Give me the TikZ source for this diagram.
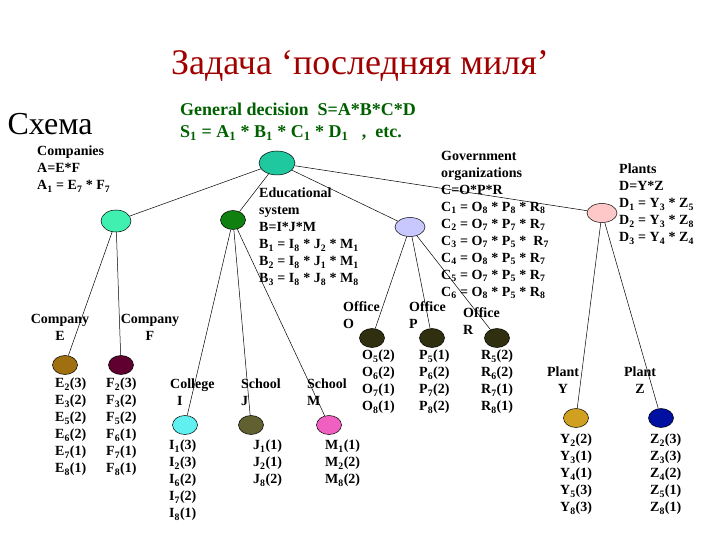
\documentclass[tikz,border=0pt]{standalone}
\usepackage{fontspec}
\setmainfont{Liberation Serif}
\newcommand{\sbs}[1]{\textsubscript{#1}}
\begin{document}
\begin{tikzpicture}[x=1pt,y=-1pt,
  nd/.style={ellipse,draw=black,line width=0.5pt,minimum width=30pt,minimum height=22pt,inner sep=0},
  lbl/.style={anchor=north west,align=left,inner sep=0,font=\bfseries\fontsize{14}{17}\selectfont},
  lblc/.style={anchor=north,align=center,inner sep=0,font=\bfseries\fontsize{14}{17}\selectfont},
  edge/.style={draw=black,line width=0.5pt}]
\useasboundingbox (0,0) rectangle (720,540);
\usetikzlibrary{shapes.geometric}
\definecolor{cRoot}{HTML}{20C8A0}
\definecolor{cA}{HTML}{40F0B0}
\definecolor{cB}{HTML}{108010}
\definecolor{cC}{HTML}{C8C8FF}
\definecolor{cD}{HTML}{FFC8C8}
\definecolor{cE}{HTML}{A07010}
\definecolor{cF}{HTML}{600030}
\definecolor{cI}{HTML}{60F0F0}
\definecolor{cJ}{HTML}{606030}
\definecolor{cM}{HTML}{F060C0}
\definecolor{cO}{HTML}{303010}
\definecolor{cY}{HTML}{D0A020}
\definecolor{cZ}{HTML}{0010A0}
\definecolor{titred}{HTML}{A00000}
\definecolor{subgreen}{HTML}{006000}
% title
\node[font=\fontsize{36}{40}\selectfont,text=titred] (title) at (360,66) {Задача ‘последняя миля’};
\node[font=\fontsize{32}{36}\selectfont,anchor=west] (schema) at (4,124) {Схема};
\node[anchor=north west,align=left,inner sep=0,text=subgreen,font=\bfseries\fontsize{18}{22}\selectfont] (gen) at (180,103)
 {General decision\ \ S=A*B*C*D\\ S\sbs{1} = A\sbs{1} * B\sbs{1} * C\sbs{1} * D\sbs{1}\ \ \ ,\ \ etc.};
% ellipses
\node[nd,fill=cRoot,minimum width=36pt,minimum height=24pt] (root) at (277,163) {};
\node[nd,fill=cA] (A) at (116,221) {};
\node[nd,fill=cB,minimum width=25pt,minimum height=19pt] (B) at (233,220) {};
\node[nd,fill=cC,minimum height=19pt] (C) at (410,227) {};
\node[nd,fill=cD,minimum height=19pt] (D) at (602,213) {};
\node[nd,fill=cE,minimum width=25pt,minimum height=19pt] (E) at (65,365) {};
\node[nd,fill=cF,minimum width=25pt,minimum height=19pt] (F) at (121,365) {};
\node[nd,fill=cI,minimum width=25pt,minimum height=19pt] (I) at (185,425) {};
\node[nd,fill=cJ,minimum width=25pt,minimum height=19pt] (J) at (251,425) {};
\node[nd,fill=cM,minimum width=25pt,minimum height=19pt] (M) at (329,425) {};
\node[nd,fill=cO,minimum width=25pt,minimum height=19pt] (O) at (372,338) {};
\node[nd,fill=cO,minimum width=25pt,minimum height=19pt] (P) at (432,338) {};
\node[nd,fill=cO,minimum width=25pt,minimum height=19pt] (R) at (497,338) {};
\node[nd,fill=cY,minimum width=25pt,minimum height=19pt] (Y) at (576,418) {};
\node[nd,fill=cZ,minimum width=25pt,minimum height=19pt] (Z) at (661,418) {};
% edges
\draw[edge] (root) -- (A); \draw[edge] (root) -- (B);
\draw[edge] (root) -- (C); \draw[edge] (root) -- (D);
\draw[edge] (A) -- (E); \draw[edge] (A) -- (F);
\draw[edge] (B) -- (I); \draw[edge] (B) -- (J); \draw[edge] (B) -- (M);
\draw[edge] (C) -- (O); \draw[edge] (C) -- (P); \draw[edge] (C) -- (R);
\draw[edge] (D) -- (Y); \draw[edge] (D) -- (Z);
% labels
\node[lbl] (lA) at (37,146) {Companies\\A=E*F\\A\sbs{1} = E\sbs{7} * F\sbs{7}};
\node[lbl] (lB) at (259,188) {Educational\\system\\B=I*J*M\\B\sbs{1} = I\sbs{8} * J\sbs{2} * M\sbs{1}\\B\sbs{2} = I\sbs{8} * J\sbs{1} * M\sbs{1}\\B\sbs{3} = I\sbs{8} * J\sbs{8} * M\sbs{8}};
\node[lbl] (lC) at (441,151) {Government\\organizations\\C=O*P*R\\C\sbs{1} = O\sbs{8} * P\sbs{8} * R\sbs{8}\\C\sbs{2} = O\sbs{7} * P\sbs{7} * R\sbs{7}\\C\sbs{3} = O\sbs{7} * P\sbs{5} *\ \ R\sbs{7}\\C\sbs{4} = O\sbs{8} * P\sbs{5} * R\sbs{7}\\C\sbs{5} = O\sbs{7} * P\sbs{5} * R\sbs{7}\\C\sbs{6} = O\sbs{8} * P\sbs{5} * R\sbs{8}};
\node[lbl] (lD) at (619,164) {Plants\\D=Y*Z\\D\sbs{1} = Y\sbs{3} * Z\sbs{5}\\D\sbs{2} = Y\sbs{3} * Z\sbs{8}\\D\sbs{3} = Y\sbs{4} * Z\sbs{4}};
\node[lblc] (nE) at (60,314) {Company\\E};
\node[lblc] (nF) at (150,314) {Company\\F};
\node[lbl] (vE) at (55,378) {E\sbs{2}(3)\\E\sbs{3}(2)\\E\sbs{5}(2)\\E\sbs{6}(2)\\E\sbs{7}(1)\\E\sbs{8}(1)};
\node[lbl] (vF) at (106,378) {F\sbs{2}(3)\\F\sbs{3}(2)\\F\sbs{5}(2)\\F\sbs{6}(1)\\F\sbs{7}(1)\\F\sbs{8}(1)};
\node[lbl] (nI) at (170,379) {College\\\ \ I};
\node[lbl] (nJ) at (241,379) {School\\J};
\node[lbl] (nM) at (307,379) {School\\M};
\node[lbl] (vI) at (169,440) {I\sbs{1}(3)\\I\sbs{2}(3)\\I\sbs{6}(2)\\I\sbs{7}(2)\\I\sbs{8}(1)};
\node[lbl] (vJ) at (253,440) {J\sbs{1}(1)\\J\sbs{2}(1)\\J\sbs{8}(2)};
\node[lbl] (vM) at (325,440) {M\sbs{1}(1)\\M\sbs{2}(2)\\M\sbs{8}(2)};
\node[lbl] (nO) at (343,301) {Office\\O};
\node[lbl] (nP) at (409,301) {Office\\P};
\node[lbl] (nR) at (463,307) {Office\\R};
\node[lbl] (vO) at (362,350) {O\sbs{5}(2)\\O\sbs{6}(2)\\O\sbs{7}(1)\\O\sbs{8}(1)};
\node[lbl] (vP) at (419,350) {P\sbs{5}(1)\\P\sbs{6}(2)\\P\sbs{7}(2)\\P\sbs{8}(2)};
\node[lbl] (vR) at (481,350) {R\sbs{5}(2)\\R\sbs{6}(2)\\R\sbs{7}(1)\\R\sbs{8}(1)};
\node[lblc] (nY) at (563,367) {Plant\\Y};
\node[lblc] (nZ) at (640,367) {Plant\\Z};
\node[lbl] (vY) at (560,434) {Y\sbs{2}(2)\\Y\sbs{3}(1)\\Y\sbs{4}(1)\\Y\sbs{5}(3)\\Y\sbs{8}(3)};
\node[lbl] (vZ) at (650,434) {Z\sbs{2}(3)\\Z\sbs{3}(3)\\Z\sbs{4}(2)\\Z\sbs{5}(1)\\Z\sbs{8}(1)};
\end{tikzpicture}
\end{document}
